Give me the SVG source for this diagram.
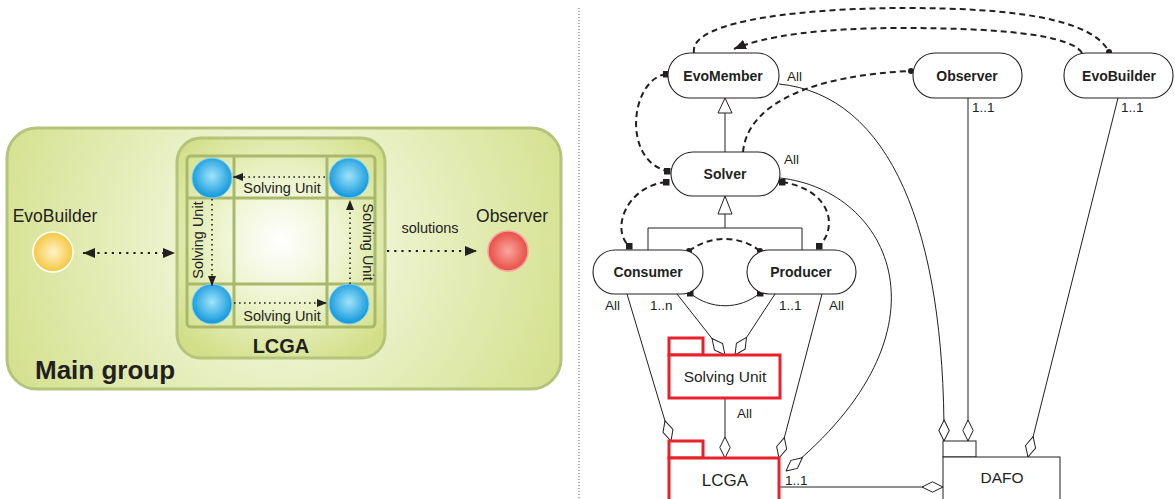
<svg xmlns="http://www.w3.org/2000/svg" width="1175" height="499" viewBox="0 0 1175 499">
<defs>
<radialGradient id="gMain" gradientUnits="userSpaceOnUse" cx="282" cy="240" r="320">
<stop offset="0" stop-color="#ffffff"/>
<stop offset="0.3" stop-color="#eef4d2"/>
<stop offset="1" stop-color="#d2df88"/>
</radialGradient>
<radialGradient id="gLcga" gradientUnits="userSpaceOnUse" cx="281" cy="241" r="135">
<stop offset="0" stop-color="#ffffff"/>
<stop offset="0.45" stop-color="#eef4d0"/>
<stop offset="1" stop-color="#d2df88"/>
</radialGradient>
<radialGradient id="gBlue" cx="0.5" cy="0.45" r="0.55">
<stop offset="0" stop-color="#a0e4fb"/>
<stop offset="1" stop-color="#0e96da"/>
</radialGradient>
<radialGradient id="gYellow" cx="0.5" cy="0.5" r="0.55">
<stop offset="0" stop-color="#fff4c8"/>
<stop offset="1" stop-color="#f4c232"/>
</radialGradient>
<radialGradient id="gRed" cx="0.5" cy="0.5" r="0.55">
<stop offset="0" stop-color="#f9a6a0"/>
<stop offset="1" stop-color="#e6453b"/>
</radialGradient>
<marker id="arr" viewBox="0 0 10 8" refX="10" refY="4" markerWidth="10" markerHeight="8" markerUnits="userSpaceOnUse" orient="auto-start-reverse">
<path d="M0,0 L10,4 L0,8 z" fill="#231f20"/>
</marker>
<marker id="arrBig" viewBox="0 0 12 10" refX="12" refY="5" markerWidth="12" markerHeight="10" markerUnits="userSpaceOnUse" orient="auto-start-reverse">
<path d="M0,0 L12,5 L0,10 z" fill="#231f20"/>
</marker>
<marker id="dia" viewBox="0 0 22 12" refX="21.5" refY="6" markerWidth="22" markerHeight="12" markerUnits="userSpaceOnUse" orient="auto">
<path d="M0.5,6 L11,0.8 L21.5,6 L11,11.2 z" fill="#ffffff" stroke="#231f20" stroke-width="1"/>
</marker>
<marker id="sq" viewBox="0 0 8 8" refX="4" refY="4" markerWidth="7" markerHeight="7" markerUnits="userSpaceOnUse" orient="0">
<rect x="0" y="0" width="8" height="8" fill="#231f20"/>
</marker>
<marker id="dot" viewBox="0 0 8 8" refX="4" refY="4" markerWidth="6" markerHeight="6" markerUnits="userSpaceOnUse">
<circle cx="4" cy="4" r="4" fill="#231f20"/>
</marker>
</defs>
<style>
text{font-family:"Liberation Sans",Arial,sans-serif;fill:#231f20}
.lbl{font-size:14.5px}
.pill{fill:#ffffff;stroke:#231f20;stroke-width:1.1}
.pt{font-size:14px;font-weight:bold;text-anchor:middle}
.mult{font-size:13.5px}
.dash{fill:none;stroke:#231f20;stroke-width:2;stroke-dasharray:6 4}
.sol{fill:none;stroke:#231f20;stroke-width:1}
.dotl{fill:none;stroke:#231f20;stroke-width:1.6;stroke-dasharray:1.6 3.4}
.dotb{fill:none;stroke:#231f20;stroke-width:2.2;stroke-dasharray:2.2 5}
.cell{fill:none;stroke:#a9b96b;stroke-width:3}
.red{fill:#ffffff;stroke:#e8212a;stroke-width:3}
.gray{fill:#ffffff;stroke:#231f20;stroke-width:1}
</style>

<!-- Left panel -->
<g id="main-group">
<rect x="7" y="128" width="554" height="261" rx="30" fill="url(#gMain)" stroke="#b4c47a" stroke-width="3"/>
<text x="35" y="379" style="font-size:26px;font-weight:bold">Main group</text>
</g>
<g id="lcga-group">
<rect x="177" y="138" width="208" height="220" rx="24" fill="url(#gLcga)" stroke="#b4c47a" stroke-width="3"/>
<rect x="187" y="156" width="188" height="171" rx="4" class="cell"/>
<line x1="234" y1="156" x2="234" y2="327" class="cell"/>
<line x1="327" y1="156" x2="327" y2="327" class="cell"/>
<line x1="187" y1="198" x2="375" y2="198" class="cell"/>
<line x1="187" y1="284" x2="375" y2="284" class="cell"/>
<text x="281" y="353" text-anchor="middle" style="font-size:20px;font-weight:bold">LCGA</text>
</g>
<g id="su-tl"><circle cx="212" cy="178" r="20" fill="url(#gBlue)" stroke="#7fd3f5" stroke-width="1"/></g>
<g id="su-tr"><circle cx="349" cy="178" r="20" fill="url(#gBlue)" stroke="#7fd3f5" stroke-width="1"/></g>
<g id="su-bl"><circle cx="212" cy="304" r="20" fill="url(#gBlue)" stroke="#7fd3f5" stroke-width="1"/></g>
<g id="su-br"><circle cx="349" cy="304" r="20" fill="url(#gBlue)" stroke="#7fd3f5" stroke-width="1"/></g>
<g id="evobuilder-left">
<circle cx="53" cy="252" r="20" fill="url(#gYellow)" stroke="#ffffff" stroke-width="1.5"/>
<text x="55" y="222" text-anchor="middle" style="font-size:17.5px">EvoBuilder</text>
</g>
<g id="observer-left">
<circle cx="508" cy="251" r="20" fill="url(#gRed)" stroke="#f6a3a3" stroke-width="1.5"/>
<text x="512" y="222" text-anchor="middle" style="font-size:17.5px">Observer</text>
</g>
<g id="left-connectors">
<line x1="325" y1="177" x2="233" y2="177" class="dotl" marker-end="url(#arr)"/>
<line x1="212" y1="199" x2="212" y2="286" class="dotl" marker-end="url(#arr)"/>
<line x1="234" y1="303" x2="327" y2="303" class="dotl" marker-end="url(#arr)"/>
<line x1="350" y1="284" x2="350" y2="200" class="dotl" marker-end="url(#arr)"/>
<line x1="83" y1="253" x2="175" y2="253" class="dotb" marker-start="url(#arrBig)" marker-end="url(#arrBig)"/>
<line x1="387" y1="251" x2="477" y2="251" class="dotb" marker-end="url(#arrBig)"/>
<text x="282" y="193" text-anchor="middle" class="lbl">Solving Unit</text>
<text x="282" y="321" text-anchor="middle" class="lbl">Solving Unit</text>
<text transform="translate(203,240) rotate(-90)" text-anchor="middle" class="lbl">Solving Unit</text>
<text transform="translate(363,242) rotate(90)" text-anchor="middle" class="lbl">Solving Unit</text>
<text x="430" y="233" text-anchor="middle" class="lbl">solutions</text>
</g>

<line x1="579" y1="8" x2="579" y2="499" stroke="#555" stroke-width="1" stroke-dasharray="1 2"/>

<!-- Right panel connectors -->
<g id="connectors">
<path d="M694,53 C688,18 820,8 905,8 C1010,8 1092,18 1109,52" class="dash" marker-end="url(#dot)"/>
<path d="M1082,53 C1068,30 960,28 900,28 C820,28 765,36 734,49" class="dash" marker-end="url(#arrBig)"/>
<path d="M666,74 C630,80 622,160 667,171" class="dash" marker-start="url(#sq)" marker-end="url(#sq)"/>
<path d="M666,182 C628,186 610,228 629,246" class="dash" marker-start="url(#sq)" marker-end="url(#sq)"/>
<path d="M782,182 C832,190 838,228 819,246" class="dash" marker-start="url(#sq)" marker-end="url(#sq)"/>
<path d="M743,152 C748,100 820,75 911,71" class="dash" marker-end="url(#dot)"/>
<path d="M689,251 C710,235 740,235 760,251" class="dash" marker-start="url(#dot)" marker-end="url(#dot)"/>
<path d="M690,293 C710,310 740,310 760,293" class="sol" marker-start="url(#sq)" marker-end="url(#sq)"/>
<line x1="725" y1="113" x2="725" y2="152" class="sol"/>
<path d="M725,98 L718,113 L732,113 z" fill="#fff" stroke="#231f20" stroke-width="1"/>
<path d="M725,214 L725,228 M648,250 L648,228 L802,228 L802,250" class="sol"/>
<path d="M725,196 L718,214 L732,214 z" fill="#fff" stroke="#231f20" stroke-width="1"/>
<path d="M779,84 C890,95 945,230 944,441" class="sol" marker-end="url(#dia)"/>
<path d="M780,178 C890,190 960,330 786,471" class="sol" marker-end="url(#dia)"/>
<line x1="968" y1="98" x2="968" y2="441" class="sol" marker-end="url(#dia)"/>
<line x1="1118" y1="98" x2="1028" y2="457" class="sol" marker-end="url(#dia)"/>
<line x1="627" y1="294" x2="671" y2="441" class="sol" marker-end="url(#dia)"/>
<line x1="677" y1="294" x2="725" y2="355" class="sol" marker-end="url(#dia)"/>
<line x1="775" y1="294" x2="735" y2="355" class="sol" marker-end="url(#dia)"/>
<line x1="822" y1="294" x2="779" y2="458" class="sol" marker-end="url(#dia)"/>
<line x1="725" y1="398" x2="725" y2="458" class="sol" marker-end="url(#dia)"/>
<line x1="779" y1="487" x2="943" y2="487" class="sol" marker-end="url(#dia)"/>
<text x="787" y="81" class="mult">All</text>
<text x="784" y="164" class="mult">All</text>
<text x="972" y="112" class="mult">1..1</text>
<text x="1121" y="112" class="mult">1..1</text>
<text x="605" y="310" class="mult">All</text>
<text x="650" y="310" class="mult">1..n</text>
<text x="779" y="310" class="mult">1..1</text>
<text x="829" y="310" class="mult">All</text>
<text x="737" y="418" class="mult">All</text>
<text x="785" y="485" class="mult">1..1</text>
</g>

<g id="evomember"><rect x="668" y="53" width="111" height="45" rx="22" class="pill"/><text x="723" y="81" class="pt">EvoMember</text></g>
<g id="solver"><rect x="671" y="152" width="109" height="44" rx="22" class="pill"/><text x="725" y="179" class="pt">Solver</text></g>
<g id="consumer"><rect x="593" y="250" width="110" height="44" rx="22" class="pill"/><text x="648" y="277" class="pt">Consumer</text></g>
<g id="producer"><rect x="747" y="250" width="109" height="44" rx="22" class="pill"/><text x="801" y="277" class="pt">Producer</text></g>
<g id="observer"><rect x="913" y="53" width="109" height="45" rx="22" class="pill"/><text x="967" y="81" class="pt">Observer</text></g>
<g id="evobuilder"><rect x="1064" y="53" width="109" height="45" rx="22" class="pill"/><text x="1119" y="81" class="pt">EvoBuilder</text></g>
<g id="solving-unit">
<rect x="669" y="338" width="34" height="17" class="red"/>
<rect x="669" y="355" width="111" height="43" class="red"/>
<text x="725" y="382" text-anchor="middle" style="font-size:15.5px">Solving Unit</text>
</g>
<g id="lcga">
<rect x="669" y="441" width="34" height="17" class="red"/>
<rect x="669" y="458" width="110" height="50" class="red"/>
<text x="725" y="486" text-anchor="middle" style="font-size:17px">LCGA</text>
</g>
<g id="dafo">
<rect x="943" y="441" width="33" height="16" class="gray"/>
<rect x="943" y="457" width="117" height="50" class="gray"/>
<text x="1002" y="483" text-anchor="middle" style="font-size:15.5px">DAFO</text>
</g>
</svg>
